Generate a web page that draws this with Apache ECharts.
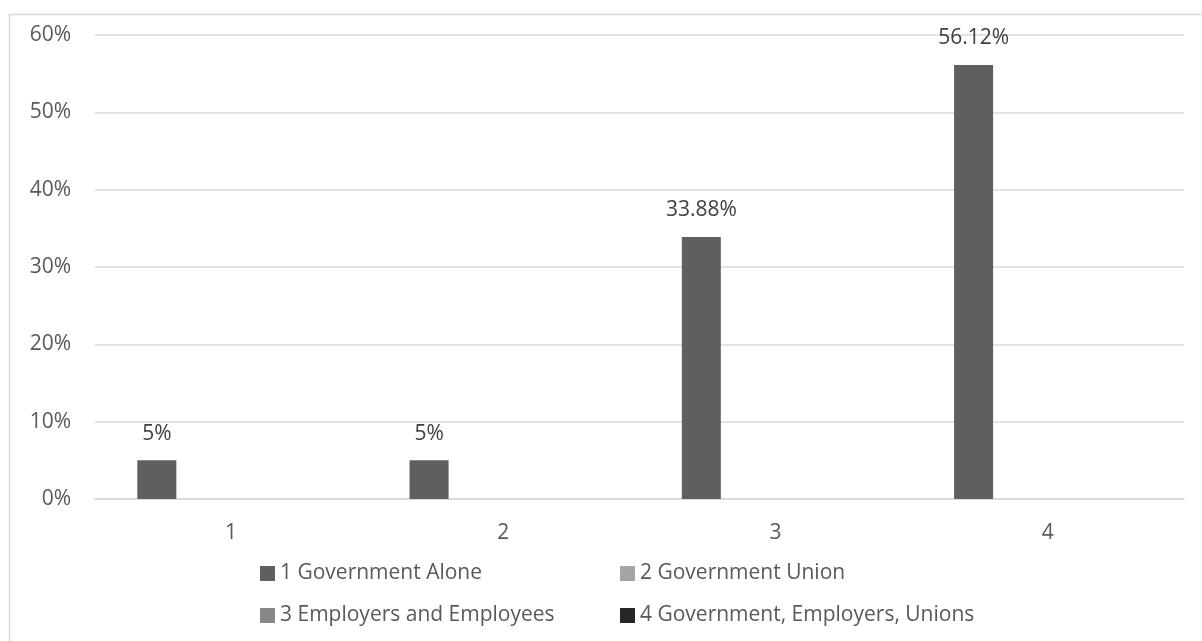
<!DOCTYPE html>
<html lang="en">
<head>
    <meta charset="UTF-8">
    <title>bar chart</title>
    <script type="text/javascript" src="https://cdn.jsdelivr.net/npm/echarts@6/dist/echarts.min.js"></script>
    <style>
        html, body { margin: 0; padding: 0; background: #fff; }
    </style>
</head>
<body>
    <div id="main" style="width:1202px;height:641px;"></div>

    <script type="text/javascript">
        // data
        var categories = ['1', '2', '3', '4'];
        var seriesNames = ['1 Government Alone', '2 Government Union', '3 Employers and Employees', '4 Government, Employers, Unions'];
        var govAlone = [5, 5, 33.88, 56.12];
        var govUnion = [null, null, null, null];
        var employersEmployees = [null, null, null, null];
        var govEmployersUnions = [null, null, null, null];
        var yTicks = [0, 10, 20, 30, 40, 50, 60];

        var colors = ['#5f5f5f', '#a5a5a5', '#878787', '#262626'];
        var seriesData = [govAlone, govUnion, employersEmployees, govEmployersUnions];
        var fontFam = '"Open Sans", "Noto Sans", sans-serif';

        // legend positions (2 x 2 layout, like Excel)
        var legendPos = [[260, 563], [620, 563], [260, 605], [620, 605]];

        var myChart = echarts.init(document.getElementById('main'));

        myChart.setOption({
            animation: false,
            color: colors,
            graphic: [{
                type: 'rect',
                shape: { x: 9.5, y: 14.5, width: 1300, height: 700 },
                style: { fill: 'none', stroke: '#d9d9d9', lineWidth: 1.5 },
                silent: true
            }],
            legend: legendPos.map(function (p, i) {
                return {
                    data: [seriesNames[i]],
                    left: p[0],
                    top: p[1],
                    padding: 0,
                    itemWidth: 15,
                    itemHeight: 15,
                    icon: 'rect',
                    textStyle: { color: '#595959', fontSize: 21, fontFamily: fontFam }
                };
            }),
            grid: { left: 95, right: 18, top: 35, bottom: 142 },
            xAxis: {
                type: 'category',
                data: categories,
                axisLine: { lineStyle: { color: '#d9d9d9', width: 1.5 } },
                axisTick: { show: false },
                axisLabel: { color: '#595959', fontSize: 21, fontFamily: fontFam, margin: 24 }
            },
            yAxis: {
                type: 'value',
                min: yTicks[0],
                max: yTicks[yTicks.length - 1],
                interval: 10,
                axisLine: { show: false },
                axisTick: { show: false },
                splitLine: { lineStyle: { color: '#d9d9d9', width: 1.5 } },
                axisLabel: {
                    color: '#595959', fontSize: 21, fontFamily: fontFam, margin: 24,
                    formatter: function (v) { return v + '%'; }
                }
            },
            series: seriesData.map(function (d, i) {
                return {
                    name: seriesNames[i],
                    type: 'bar',
                    data: d,
                    barWidth: 39,
                    barGap: '27%',
                    label: {
                        show: true,
                        position: 'top',
                        distance: 16,
                        color: '#404040',
                        fontSize: 21,
                        fontFamily: fontFam,
                        formatter: function (p) { return p.value + '%'; }
                    }
                };
            })
        });
    </script>
</body>
</html>
